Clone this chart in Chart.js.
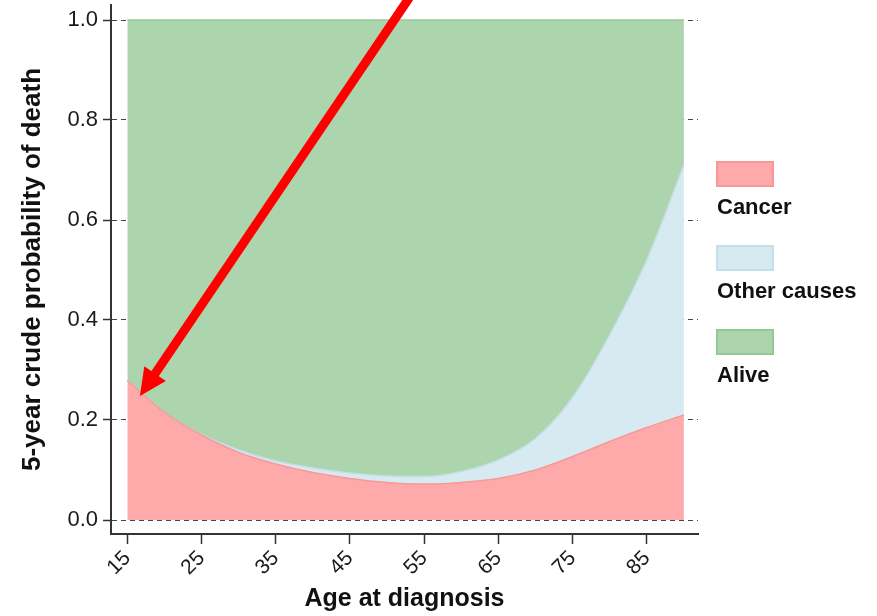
<!DOCTYPE html>
<html>
<head>
<meta charset="utf-8">
<script src="https://cdn.jsdelivr.net/npm/chart.js@4/dist/chart.umd.min.js"></script>
<style>
  html, body { margin: 0; padding: 0; background: #fff; }
  #wrap { width: 877px; height: 616px; }
</style>
</head>
<body>
<div id="wrap"><canvas id="crudeChart" width="877" height="616"></canvas></div>
<script>
// age at diagnosis
var ages = [15, 20, 25, 30, 35, 40, 45, 50, 55, 60, 65, 70, 75, 80, 85, 90];
// 5-year crude probabilities (stacked)
var cancer      = [0.279, 0.215, 0.170, 0.135, 0.112, 0.095, 0.083, 0.075, 0.072, 0.075, 0.083, 0.100, 0.127, 0.157, 0.185, 0.210];
var otherCauses = [0.000, 0.000, 0.001, 0.005, 0.006, 0.009, 0.011, 0.013, 0.015, 0.022, 0.037, 0.063, 0.118, 0.213, 0.335, 0.500];
var alive       = [0.721, 0.785, 0.829, 0.860, 0.882, 0.896, 0.906, 0.912, 0.913, 0.903, 0.880, 0.837, 0.755, 0.630, 0.480, 0.290];

var xTicks = [15, 25, 35, 45, 55, 65, 75, 85];
var yTicks = [0, 0.2, 0.4, 0.6, 0.8, 1.0];

// arrow annotation, in data units: [age, probability]
var arrowFrom = [53.7, 1.06];
var arrowTo = [16.7, 0.248];

var FONT = "'Liberation Sans', Arial, sans-serif";

function pts(vals) {
  return ages.map(function (a, i) { return { x: a, y: vals[i] }; });
}

// scales should not push the plot area around
function noPad(s) {
  s.paddingTop = 0; s.paddingBottom = 0; s.paddingLeft = 0; s.paddingRight = 0;
}

var legendPlugin = {
  id: 'sideLegend',
  afterDraw: function (chart) {
    var c = chart.ctx;
    var x0 = chart.chartArea.right + 18;
    c.save();
    chart.data.datasets.forEach(function (ds, i) {
      var top = 161 + i * 84;
      c.fillStyle = ds.backgroundColor;
      c.fillRect(x0, top, 58, 26);
      c.strokeStyle = ds.borderColor;
      c.lineWidth = 2;
      c.strokeRect(x0 + 1, top + 1, 56, 24);
      c.fillStyle = '#111';
      c.font = 'bold 22px ' + FONT;
      c.textBaseline = 'alphabetic';
      c.textAlign = 'left';
      c.fillText(ds.label, x0 + 1, top + 53);
    });
    c.restore();
  }
};

var arrowPlugin = {
  id: 'arrow',
  afterDatasetsDraw: function (chart) {
    var xs = chart.scales.x, ys = chart.scales.y, c = chart.ctx;
    var x1 = xs.getPixelForValue(arrowFrom[0]), y1 = ys.getPixelForValue(arrowFrom[1]);
    var x2 = xs.getPixelForValue(arrowTo[0]), y2 = ys.getPixelForValue(arrowTo[1]);
    var ang = Math.atan2(y2 - y1, x2 - x1);
    var headLen = 27, headW = 13;
    var bx = x2 - headLen * Math.cos(ang), by = y2 - headLen * Math.sin(ang);
    c.save();
    c.strokeStyle = '#ff0000';
    c.fillStyle = '#ff0000';
    c.lineWidth = 9;
    c.beginPath();
    c.moveTo(x1, y1);
    c.lineTo(bx + 4 * Math.cos(ang), by + 4 * Math.sin(ang));
    c.stroke();
    c.beginPath();
    c.moveTo(x2, y2);
    c.lineTo(bx + headW * Math.sin(ang), by - headW * Math.cos(ang));
    c.lineTo(bx - headW * Math.sin(ang), by + headW * Math.cos(ang));
    c.closePath();
    c.fill();
    c.restore();
  }
};

var ctx = document.getElementById('crudeChart');
var crudeChart = new Chart(ctx, {
  type: 'line',
  data: {
    datasets: [
      {
        label: 'Cancer',
        data: pts(cancer),
        backgroundColor: 'rgb(255, 170, 170)',
        borderColor: 'rgb(248, 152, 152)',
        borderWidth: 1.5,
        fill: 'origin'
      },
      {
        label: 'Other causes',
        data: pts(otherCauses),
        backgroundColor: 'rgb(215, 234, 241)',
        borderColor: 'rgb(196, 223, 233)',
        borderWidth: 1.5,
        fill: '-1'
      },
      {
        label: 'Alive',
        data: pts(alive),
        backgroundColor: 'rgb(173, 213, 173)',
        borderColor: 'rgb(150, 200, 150)',
        borderWidth: 1.5,
        fill: '-1'
      }
    ]
  },
  options: {
    responsive: false,
    animation: false,
    layout: { padding: { top: 5, right: 179, left: 0, bottom: 0 } },
    elements: {
      point: { radius: 0, hoverRadius: 0 },
      line: { cubicInterpolationMode: 'monotone' }
    },
    plugins: {
      legend: { display: false },
      tooltip: { enabled: false }
    },
    scales: {
      x: {
        type: 'linear',
        min: 12.8,
        max: 91.9,
        afterFit: function (s) { s.height = 82; noPad(s); },
        afterBuildTicks: function (s) { s.ticks = xTicks.map(function (v) { return { value: v }; }); },
        border: { color: '#333', width: 2 },
        grid: {
          drawOnChartArea: false,
          tickLength: 10,
          tickColor: '#333',
          tickWidth: 1.5
        },
        ticks: {
          minRotation: 45,
          maxRotation: 45,
          padding: 2,
          color: '#1a1a1a',
          font: { family: FONT, size: 21 },
          callback: function (v) { return String(v); }
        },
        title: {
          display: true,
          text: 'Age at diagnosis',
          color: '#111',
          padding: { top: 0, bottom: 2 },
          font: { family: FONT, size: 25, weight: 'bold' }
        }
      },
      y: {
        stacked: true,
        min: -0.028,
        max: 1.03,
        afterFit: function (s) { s.width = 111; noPad(s); },
        afterBuildTicks: function (s) { s.ticks = yTicks.map(function (v) { return { value: v }; }); },
        border: { color: '#333', width: 2, dash: [5, 4] },
        grid: {
          color: '#444',
          lineWidth: 1,
          tickBorderDash: [],
          tickLength: 8,
          tickColor: '#333',
          tickWidth: 1.5
        },
        ticks: {
          padding: 5,
          color: '#1a1a1a',
          font: { family: FONT, size: 22 },
          callback: function (v) { return Number(v).toFixed(1); }
        },
        title: {
          display: true,
          text: '5-year crude probability of death',
          color: '#111',
          padding: { top: 17, bottom: 0 },
          font: { family: FONT, size: 26, weight: 'bold' }
        }
      }
    }
  },
  plugins: [arrowPlugin, legendPlugin]
});
</script>
</body>
</html>
